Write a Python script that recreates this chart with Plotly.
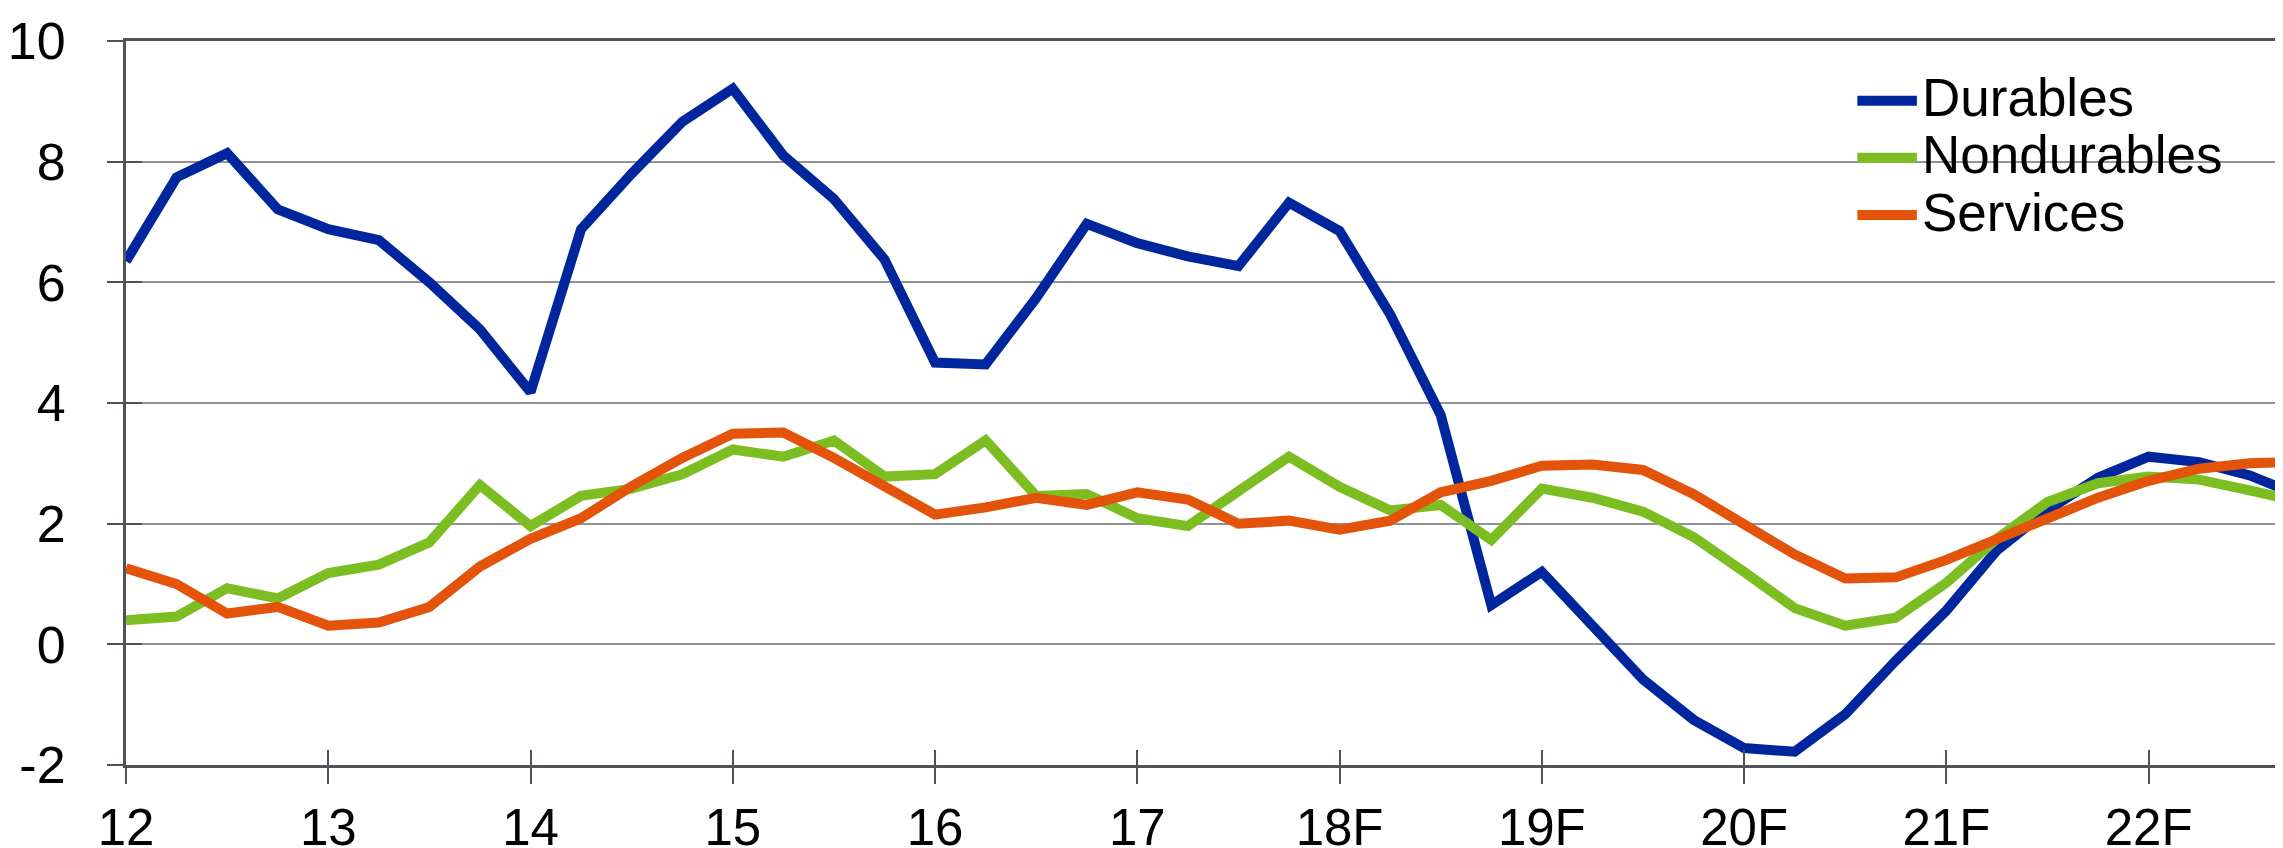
import plotly.graph_objects as go

quarters = [12 + 0.25 * i for i in range(44)]

durables = [6.35, 7.74, 8.14, 7.21, 6.88, 6.70, 6.00, 5.22, 4.18, 6.88,
            7.80, 8.66, 9.21, 8.10, 7.38, 6.38, 4.67, 4.64, 5.74, 6.97,
            6.65, 6.43, 6.27, 7.32, 6.85, 5.47, 3.80, 0.65, 1.20, 0.31,
            -0.58, -1.25, -1.72, -1.78, -1.16, -0.27, 0.56, 1.56, 2.22, 2.76,
            3.11, 3.02, 2.80, 2.46]
nondurables = [0.40, 0.46, 0.93, 0.76, 1.18, 1.32, 1.69, 2.64, 1.96, 2.46,
               2.58, 2.82, 3.23, 3.11, 3.38, 2.78, 2.82, 3.38, 2.46, 2.49,
               2.09, 1.96, 2.54, 3.11, 2.61, 2.22, 2.31, 1.73, 2.58, 2.43,
               2.20, 1.78, 1.20, 0.60, 0.31, 0.44, 1.02, 1.75, 2.36, 2.67,
               2.78, 2.73, 2.55, 2.36]
services = [1.26, 1.00, 0.51, 0.62, 0.31, 0.36, 0.62, 1.29, 1.75, 2.09,
            2.62, 3.09, 3.49, 3.51, 3.09, 2.60, 2.15, 2.27, 2.43, 2.31,
            2.52, 2.40, 2.00, 2.05, 1.90, 2.05, 2.52, 2.71, 2.96, 2.98,
            2.89, 2.49, 2.00, 1.49, 1.09, 1.11, 1.40, 1.75, 2.09, 2.43,
            2.71, 2.91, 3.00, 3.03]

series_names = ["Durables", "Nondurables", "Services"]
series_colors = ["#00269e", "#7cbe22", "#e3530a"]

tick_vals = [12, 13, 14, 15, 16, 17, 18, 19, 20, 21, 22]
tick_text = ["12", "13", "14", "15", "16", "17", "18F", "19F", "20F", "21F", "22F"]
y_ticks = [-2, 0, 2, 4, 6, 8, 10]
y_tick_text = ["-2", "0", "2", "4", "6", "8", "10"]

FONT = "Liberation Sans, Arial, sans-serif"
AXIS_COLOR = "#4f5359"
GRID_COLOR = "#909398"

fig = go.Figure()
for name, vals, col in zip(series_names, [durables, nondurables, services], series_colors):
    fig.add_trace(go.Scatter(x=quarters, y=vals, mode="lines", name=name,
                             line=dict(color=col, width=10), showlegend=False))

# invisible trace on overlay axes to draw inward tick halves
fig.add_trace(go.Scatter(x=[12], y=[0], xaxis="x2", yaxis="y2", mode="lines",
                         showlegend=False, hoverinfo="skip", line=dict(width=0)))

# legend block (layout positions in paper coordinates)
LEG_LINE_X0, LEG_LINE_X1, LEG_TEXT_X = 0.7997, 0.8272, 0.8292
LEG_Y0, LEG_DY = 0.9215, 0.0789
shapes = [dict(type="rect", xref="paper", yref="paper", x0=0.7951, x1=0.9746,
               y0=0.709, y1=0.963, fillcolor="white", line=dict(width=0),
               layer="between")]
annotations = []
for i, (name, col) in enumerate(zip(series_names, series_colors)):
    yy = LEG_Y0 - i * LEG_DY
    shapes.append(dict(type="line", xref="paper", yref="paper",
                       x0=LEG_LINE_X0, x1=LEG_LINE_X1, y0=yy - 0.004, y1=yy - 0.004,
                       line=dict(color=col, width=10), layer="above"))
    annotations.append(dict(text=name, xref="paper", yref="paper", x=LEG_TEXT_X, y=yy,
                            xanchor="left", yanchor="middle", showarrow=False,
                            font=dict(size=53, family=FONT, color="black"),
                            borderpad=0))

fig.update_layout(
    width=2283, height=848,
    margin=dict(l=116, r=0, t=33, b=86),
    paper_bgcolor="white", plot_bgcolor="white",
    font=dict(family=FONT, color="black"),
    showlegend=False,
    shapes=shapes, annotations=annotations,
    xaxis=dict(range=[12, 22.704], tickvals=tick_vals, ticktext=tick_text,
               ticks="outside", ticklen=16, tickwidth=2, tickcolor=AXIS_COLOR,
               showline=True, linecolor=AXIS_COLOR, linewidth=3, mirror=True,
               showgrid=False, zeroline=False,
               tickfont=dict(size=51, family=FONT), ticklabelstandoff=0),
    yaxis=dict(range=[-2, 10], tickvals=y_ticks, ticktext=y_tick_text,
               ticks="outside", ticklen=16, tickwidth=2, tickcolor=AXIS_COLOR,
               showline=True, linecolor=AXIS_COLOR, linewidth=3,
               showgrid=True, gridcolor=GRID_COLOR, gridwidth=2,
               zeroline=False,
               tickfont=dict(size=52, family=FONT), ticklabelstandoff=31),
    xaxis2=dict(range=[12, 22.704], tickvals=tick_vals, overlaying="x", anchor="y2",
                side="bottom", ticks="inside", ticklen=15, tickwidth=2,
                tickcolor=AXIS_COLOR, showticklabels=False, showgrid=False,
                zeroline=False, showline=False),
    yaxis2=dict(range=[-2, 10], tickvals=y_ticks, overlaying="y", anchor="x2",
                side="left", ticks="inside", ticklen=16, tickwidth=2,
                tickcolor=AXIS_COLOR, showticklabels=False, showgrid=False,
                zeroline=False, showline=False),
)

fig.write_html("out.html")
